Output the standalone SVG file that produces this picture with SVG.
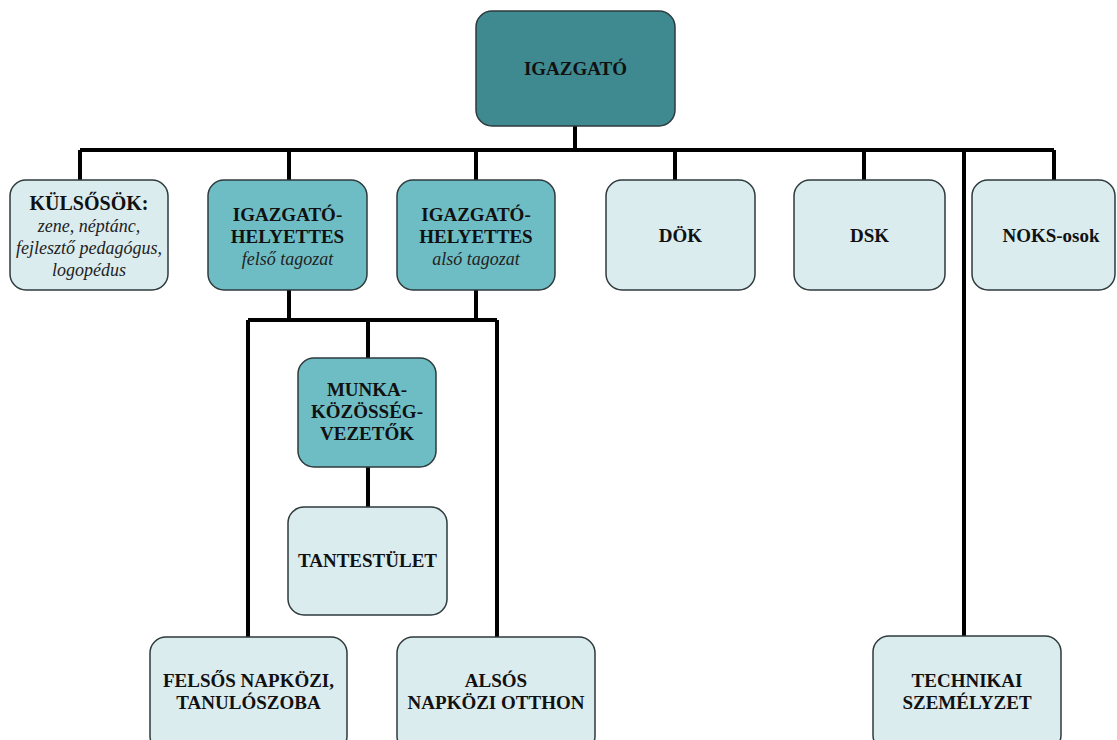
<svg xmlns="http://www.w3.org/2000/svg" width="1117" height="740" viewBox="0 0 1117 740" font-family="Liberation Serif, serif">
<style>
.box{stroke:#2e3a3c;stroke-width:1.5}
.dark{fill:#3e8a90}
.mid{fill:#6fbdc4}
.light{fill:#dbecef}
text{font-family:'Liberation Serif',serif;text-anchor:middle}
.t{font-weight:bold;font-size:19px;fill:#111}
.s{font-style:italic;font-size:18px;fill:#222}
.c{stroke:#000;stroke-width:4;fill:none}
</style>
<rect width="1117" height="740" fill="#fff"/>
<g id="connectors">
<path class="c" d="M575 126V150M80 150H1054M80 150V180M289 150V180M476 150V180M675 150V180M864 150V180M1054 150V180M964 150V636"/>
<path class="c" d="M289 290V320M476 290V320M248 320H497M248 320V637M497 320V637M368 320V358M368 467V507"/>
</g>
<g id="igazgato">
<rect class="box dark" x="476" y="11" width="199" height="115" rx="16"/>
<text class="t" x="575.5" y="75">IGAZGATÓ</text>
</g>
<g id="kulsosok">
<rect class="box light" x="10" y="180" width="158" height="110" rx="16"/>
<text class="t" x="89" y="210" style="font-size:20px">KÜLSŐSÖK:</text>
<text class="s" x="89" y="232">zene, néptánc,</text>
<text class="s" x="89" y="254">fejlesztő pedagógus,</text>
<text class="s" x="89" y="276">logopédus</text>
</g>
<g id="igh-felso">
<rect class="box mid" x="208" y="180" width="159" height="110" rx="16"/>
<text class="t" x="287.5" y="221">IGAZGATÓ-</text>
<text class="t" x="287.5" y="243">HELYETTES</text>
<text class="s" x="287.5" y="265">felső tagozat</text>
</g>
<g id="igh-also">
<rect class="box mid" x="397" y="180" width="158" height="110" rx="16"/>
<text class="t" x="476" y="221">IGAZGATÓ-</text>
<text class="t" x="476" y="243">HELYETTES</text>
<text class="s" x="476" y="265">alsó tagozat</text>
</g>
<g id="dok">
<rect class="box light" x="606" y="180" width="149" height="110" rx="16"/>
<text class="t" x="680.5" y="242">DÖK</text>
</g>
<g id="dsk">
<rect class="box light" x="794" y="180" width="151" height="110" rx="16"/>
<text class="t" x="869.5" y="242">DSK</text>
</g>
<g id="noks">
<rect class="box light" x="972" y="180" width="143" height="110" rx="16"/>
<text class="t" x="1051" y="242">NOKS-osok</text>
</g>
<g id="munkakozosseg">
<rect class="box mid" x="298" y="358" width="138" height="109" rx="16"/>
<text class="t" x="367" y="396" style="font-size:19px">MUNKA-</text>
<text class="t" x="367" y="418" style="font-size:19px">KÖZÖSSÉG-</text>
<text class="t" x="367" y="440" style="font-size:19px">VEZETŐK</text>
</g>
<g id="tantestulet">
<rect class="box light" x="288" y="507" width="159" height="108" rx="16"/>
<text class="t" x="367.5" y="567">TANTESTÜLET</text>
</g>
<g id="felsos-napkozi">
<rect class="box light" x="150" y="637" width="197" height="115" rx="16"/>
<text class="t" x="248.5" y="687">FELSŐS NAPKÖZI,</text>
<text class="t" x="248.5" y="709">TANULÓSZOBA</text>
</g>
<g id="alsos-napkozi">
<rect class="box light" x="397" y="637" width="198" height="115" rx="16"/>
<text class="t" x="496" y="687">ALSÓS</text>
<text class="t" x="496" y="709">NAPKÖZI OTTHON</text>
</g>
<g id="technikai">
<rect class="box light" x="873" y="636" width="188" height="115" rx="16"/>
<text class="t" x="967" y="687">TECHNIKAI</text>
<text class="t" x="967" y="709">SZEMÉLYZET</text>
</g>
</svg>
